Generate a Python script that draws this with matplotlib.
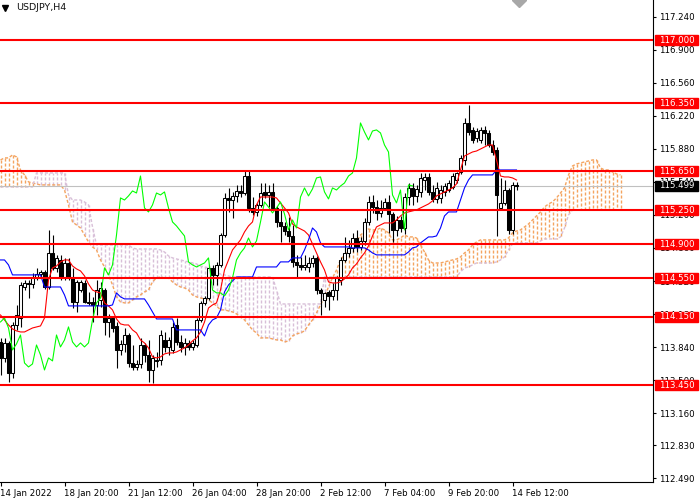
import numpy as np
import matplotlib
matplotlib.use("Agg")
import matplotlib.pyplot as plt
from matplotlib.patches import Rectangle

# USDJPY H4 candles (14 Jan 2022 .. 14 Feb 2022)
open_ = [113.893, 113.729, 113.883, 113.574, 114.068, 114.140, 114.459, 114.500, 114.490, 114.552,
         114.593, 114.614, 114.459, 114.809, 114.655, 114.737, 114.562, 114.706, 114.552, 114.305,
         114.428, 114.500, 114.305, 114.305, 114.274, 114.326, 114.428, 114.099, 114.140, 114.058,
         113.811, 113.873, 113.965, 113.677, 113.636, 113.667, 113.862, 113.760, 113.605, 113.708,
         113.708, 113.914, 113.842, 113.811, 114.068, 113.893, 113.842, 113.883, 113.842, 113.862,
         114.120, 114.295, 114.346, 114.655, 114.583, 114.686, 114.994, 115.375, 115.354, 115.396,
         115.447, 115.426, 115.601, 115.272, 115.231, 115.303, 115.437, 115.406, 115.437, 115.272,
         115.128, 115.087, 115.035, 114.984, 114.717, 114.686, 114.665, 114.665, 114.706, 114.758,
         114.428, 114.326, 114.408, 114.367, 114.428, 114.531, 114.737, 114.809, 114.861, 114.963,
         114.871, 114.933, 115.128, 115.334, 115.282, 115.221, 115.272, 115.334, 115.210, 115.046,
         115.149, 115.066, 115.385, 115.478, 115.396, 115.437, 115.560, 115.591, 115.437, 115.365,
         115.375, 115.437, 115.457, 115.488, 115.560, 115.642, 115.766, 116.147, 116.075, 115.992,
         115.972, 116.075, 116.044, 115.920, 115.869, 115.272, 115.324, 115.457, 115.046, 115.509]
high = [113.935, 113.935, 113.900, 114.099, 114.274, 114.511, 114.531, 114.531, 114.603, 114.655,
        114.634, 114.634, 115.046, 114.994, 114.789, 114.789, 114.758, 114.758, 114.655, 114.531,
        114.531, 114.531, 114.408, 114.357, 114.531, 114.511, 114.449, 114.182, 114.161, 114.099,
        113.914, 114.037, 113.986, 113.862, 113.708, 113.935, 113.883, 113.914, 113.760, 113.790,
        114.017, 113.996, 113.945, 114.099, 114.140, 113.965, 113.935, 113.914, 113.914, 114.140,
        114.315, 114.367, 114.686, 114.686, 114.717, 115.015, 115.426, 115.478, 115.437, 115.509,
        115.509, 115.663, 115.663, 115.385, 115.324, 115.529, 115.529, 115.509, 115.529, 115.293,
        115.252, 115.128, 115.180, 115.097, 114.789, 114.768, 114.789, 114.768, 114.789, 114.778,
        114.449, 114.408, 114.428, 114.500, 114.573, 114.768, 114.974, 114.943, 115.015, 115.046,
        114.974, 115.169, 115.396, 115.406, 115.354, 115.354, 115.375, 115.406, 115.231, 115.190,
        115.190, 115.426, 115.529, 115.529, 115.509, 115.632, 115.632, 115.632, 115.509, 115.540,
        115.509, 115.529, 115.560, 115.632, 115.642, 115.817, 116.198, 116.332, 116.105, 116.095,
        116.105, 116.116, 116.075, 115.972, 115.900, 115.581, 115.560, 115.478, 115.540, 115.540]
low = [113.554, 113.688, 113.482, 113.523, 114.017, 114.048, 114.428, 114.346, 114.449, 114.531,
       114.552, 114.439, 114.439, 114.634, 114.614, 114.531, 114.531, 114.531, 114.243, 114.202,
       114.408, 114.295, 114.274, 114.099, 114.171, 114.254, 113.965, 113.945, 113.996, 113.626,
       113.760, 113.790, 113.636, 113.605, 113.605, 113.626, 113.688, 113.482, 113.472, 113.636,
       113.657, 113.790, 113.760, 113.780, 113.862, 113.790, 113.760, 113.811, 113.811, 113.842,
       114.099, 114.274, 114.326, 114.480, 114.480, 114.665, 114.974, 115.231, 115.169, 115.334,
       115.385, 115.406, 115.231, 115.200, 115.190, 115.282, 115.375, 115.282, 115.252, 115.077,
       114.922, 114.994, 114.922, 114.665, 114.562, 114.634, 114.634, 114.614, 114.665, 114.387,
       114.171, 114.254, 114.223, 114.326, 114.326, 114.480, 114.717, 114.768, 114.819, 114.819,
       114.840, 114.891, 115.097, 115.221, 115.149, 115.180, 115.252, 115.015, 114.922, 114.984,
       115.025, 115.005, 115.303, 115.303, 115.334, 115.385, 115.457, 115.406, 115.334, 115.324,
       115.324, 115.396, 115.437, 115.468, 115.529, 115.622, 115.715, 116.023, 115.941, 115.951,
       115.941, 115.920, 115.900, 115.817, 114.984, 115.252, 115.303, 115.005, 115.005, 115.457]
close = [113.729, 113.883, 113.574, 114.068, 114.171, 114.480, 114.500, 114.490, 114.552, 114.593,
         114.614, 114.459, 114.809, 114.655, 114.758, 114.562, 114.706, 114.552, 114.305, 114.511,
         114.511, 114.305, 114.295, 114.274, 114.428, 114.449, 114.099, 114.140, 114.037, 113.811,
         113.873, 113.965, 113.677, 113.636, 113.667, 113.862, 113.760, 113.605, 113.729, 113.698,
         113.965, 113.842, 113.914, 114.048, 113.893, 113.842, 113.883, 113.842, 113.883, 114.120,
         114.295, 114.346, 114.655, 114.583, 114.686, 114.994, 115.375, 115.354, 115.396, 115.447,
         115.426, 115.601, 115.272, 115.231, 115.303, 115.426, 115.406, 115.437, 115.272, 115.128,
         115.087, 115.035, 114.984, 114.717, 114.686, 114.665, 114.686, 114.706, 114.758, 114.428,
         114.398, 114.398, 114.367, 114.428, 114.552, 114.737, 114.809, 114.861, 114.963, 114.871,
         114.933, 115.128, 115.334, 115.282, 115.221, 115.272, 115.334, 115.210, 115.046, 115.149,
         115.066, 115.385, 115.478, 115.396, 115.468, 115.581, 115.591, 115.437, 115.365, 115.478,
         115.457, 115.498, 115.529, 115.601, 115.632, 115.787, 116.147, 116.054, 115.972, 116.064,
         116.075, 116.044, 115.920, 115.848, 115.406, 115.324, 115.457, 115.046, 115.509, 115.499]

# Ichimoku lines as shown on the chart
tenkan = [114.171, 114.120, 114.068, 114.027, 114.007, 113.996, 113.996, 114.017, 114.037, 114.048,
          114.058, 114.140, 114.531, 114.655, 114.675, 114.717, 114.737, 114.737, 114.675, 114.645,
          114.624, 114.573, 114.490, 114.428, 114.408, 114.398, 114.295, 114.264, 114.223, 114.130,
          114.079, 114.068, 114.068, 114.017, 113.986, 113.914, 113.883, 113.832, 113.739, 113.729,
          113.739, 113.770, 113.780, 113.780, 113.790, 113.811, 113.832, 113.862, 113.904, 113.935,
          113.996, 114.099, 114.243, 114.274, 114.295, 114.428, 114.634, 114.737, 114.840, 114.891,
          114.943, 115.025, 115.087, 115.128, 115.303, 115.385, 115.385, 115.385, 115.385, 115.375,
          115.324, 115.272, 115.221, 115.107, 115.077, 115.056, 115.035, 114.994, 114.902, 114.809,
          114.717, 114.634, 114.511, 114.500, 114.500, 114.511, 114.542, 114.583, 114.655, 114.696,
          114.758, 114.809, 114.881, 114.984, 115.077, 115.097, 115.118, 115.118, 115.118, 115.149,
          115.190, 115.221, 115.231, 115.241, 115.252, 115.272, 115.293, 115.313, 115.344, 115.396,
          115.416, 115.437, 115.457, 115.478, 115.519, 115.663, 115.807, 115.827, 115.848, 115.858,
          115.879, 115.900, 115.920, 115.920, 115.766, 115.601, 115.591, 115.591, 115.581, 115.560]
kijun = [114.737, 114.737, 114.686, 114.583, 114.583, 114.583, 114.583, 114.583, 114.583, 114.583,
         114.583, 114.459, 114.459, 114.459, 114.459, 114.459, 114.377, 114.264, 114.264, 114.264,
         114.264, 114.264, 114.264, 114.264, 114.264, 114.264, 114.264, 114.264, 114.274, 114.398,
         114.357, 114.336, 114.336, 114.336, 114.336, 114.336, 114.336, 114.274, 114.202, 114.130,
         114.130, 114.130, 114.130, 114.130, 114.017, 114.017, 114.017, 114.017, 114.017, 114.017,
         114.017, 113.955, 114.068, 114.120, 114.140, 114.223, 114.408, 114.480, 114.521, 114.562,
         114.562, 114.562, 114.562, 114.562, 114.665, 114.665, 114.665, 114.665, 114.665, 114.665,
         114.717, 114.717, 114.717, 114.758, 114.758, 114.758, 114.840, 114.943, 115.066, 115.025,
         114.912, 114.871, 114.871, 114.871, 114.871, 114.871, 114.871, 114.871, 114.861, 114.861,
         114.861, 114.861, 114.840, 114.809, 114.789, 114.789, 114.789, 114.789, 114.789, 114.789,
         114.789, 114.789, 114.819, 114.861, 114.871, 114.912, 114.943, 114.974, 114.974, 114.984,
         115.066, 115.190, 115.231, 115.231, 115.231, 115.354, 115.478, 115.560, 115.612, 115.612,
         115.612, 115.612, 115.612, 115.612, 115.663, 115.663, 115.663, 115.663, 115.663, 115.663]
span_a = [115.766, 115.787, 115.787, 115.817, 115.797, 115.663, 115.612, 115.540, 115.529, 115.519,
          115.509, 115.509, 115.509, 115.509, 115.509, 115.509, 115.457, 115.303, 115.128, 115.097,
          115.066, 114.994, 114.922, 114.871, 114.840, 114.737, 114.665, 114.583, 114.480, 114.357,
          114.305, 114.295, 114.295, 114.326, 114.357, 114.377, 114.408, 114.428, 114.511, 114.552,
          114.562, 114.552, 114.552, 114.511, 114.480, 114.459, 114.449, 114.428, 114.377, 114.357,
          114.346, 114.336, 114.326, 114.295, 114.264, 114.223, 114.223, 114.212, 114.202, 114.182,
          114.151, 114.120, 114.068, 114.017, 113.986, 113.935, 113.935, 113.935, 113.924, 113.914,
          113.914, 113.893, 113.904, 113.955, 113.976, 113.986, 114.007, 114.068, 114.120, 114.192,
          114.274, 114.357, 114.459, 114.552, 114.634, 114.737, 114.789, 114.840, 114.891, 114.922,
          114.994, 115.025, 115.056, 115.046, 115.046, 115.066, 115.046, 115.015, 114.943, 114.943,
          114.963, 114.994, 114.974, 114.974, 114.963, 114.891, 114.819, 114.737, 114.706, 114.706,
          114.706, 114.717, 114.727, 114.737, 114.747, 114.768, 114.809, 114.840, 114.891, 114.922,
          114.943, 114.943, 114.943, 114.943, 114.943, 114.943, 114.943, 114.963, 115.015, 115.035,
          115.046, 115.077, 115.107, 115.149, 115.190, 115.231, 115.282, 115.313, 115.334, 115.375,
          115.426, 115.478, 115.612, 115.704, 115.725, 115.735, 115.745, 115.756, 115.766, 115.766,
          115.684, 115.663, 115.663, 115.642, 115.622, 115.612]
span_b = [115.488, 115.488, 115.488, 115.488, 115.488, 115.488, 115.488, 115.488, 115.488, 115.632,
          115.632, 115.632, 115.632, 115.632, 115.632, 115.632, 115.632, 115.406, 115.354, 115.354,
          115.354, 115.334, 115.303, 115.077, 114.891, 114.891, 114.891, 114.891, 114.891, 114.891,
          114.891, 114.891, 114.891, 114.861, 114.850, 114.850, 114.850, 114.850, 114.850, 114.850,
          114.840, 114.819, 114.778, 114.758, 114.747, 114.737, 114.727, 114.717, 114.706, 114.696,
          114.675, 114.665, 114.655, 114.634, 114.603, 114.593, 114.583, 114.573, 114.562, 114.562,
          114.562, 114.562, 114.562, 114.562, 114.562, 114.562, 114.562, 114.562, 114.562, 114.428,
          114.284, 114.284, 114.284, 114.284, 114.284, 114.284, 114.284, 114.284, 114.284, 114.284,
          114.284, 114.562, 114.562, 114.562, 114.562, 114.562, 114.562, 114.562, 114.562, 114.562,
          114.562, 114.562, 114.562, 114.562, 114.562, 114.562, 114.562, 114.562, 114.562, 114.562,
          114.562, 114.562, 114.562, 114.562, 114.562, 114.562, 114.562, 114.562, 114.562, 114.562,
          114.562, 114.562, 114.562, 114.562, 114.562, 114.614, 114.655, 114.665, 114.686, 114.706,
          114.706, 114.706, 114.706, 114.706, 114.717, 114.737, 114.768, 114.840, 114.902, 114.912,
          114.912, 114.912, 114.912, 114.912, 114.912, 114.933, 114.953, 114.953, 114.953, 114.953,
          114.974, 115.066, 115.200, 115.252, 115.252, 115.252, 115.252, 115.252, 115.252, 115.252,
          115.252, 115.252, 115.252, 115.252, 115.252, 115.252]
chikou_shift = 26

levels = [117.000, 116.350, 115.650, 115.250, 114.900, 114.550, 114.150, 113.450]
bid = 115.499

ytick_vals = [117.240, 116.900, 116.560, 116.220, 115.880, 115.540, 115.200, 114.860,
              114.520, 114.180, 113.840, 113.500, 113.160, 112.830, 112.490]
xtick_bars = [0, 16, 32, 48, 64, 80, 96, 112, 128]
xtick_labels = ["14 Jan 2022", "18 Jan 20:00", "21 Jan 12:00", "26 Jan 04:00", "28 Jan 20:00",
                "2 Feb 12:00", "7 Feb 04:00", "9 Feb 20:00", "14 Feb 12:00"]

o = np.array(open_)
h = np.array(high)
l = np.array(low)
c = np.array(close)
sa = np.array(span_a)
sb = np.array(span_b)

plt.rcParams['font.family'] = ['DejaVu Sans']

fig = plt.figure(figsize=(7, 5), dpi=100)
ax = fig.add_axes([0, 18 / 500, 653 / 700, 482 / 500])
ax.set_xlim(-0.125, 163.125)
ax.set_ylim(112.452, 117.412)

# kumo: dotted histogram between the two spans, one dashed stroke per bar
orange = '#F4A460'
thistle = '#D8BFD8'
dash = (0, (2.2, 1.4))
for k in range(len(sa)):
    col = orange if sa[k] >= sb[k] else thistle
    ax.plot([k, k], [sa[k], sb[k]], color=col, ls=dash, lw=1.0, zorder=1)
kx = np.arange(len(sa))
ax.plot(kx, sa, color=orange, ls=dash, lw=1.0, zorder=1)
ax.plot(kx, sb, color=thistle, ls=dash, lw=1.0, zorder=1)

# bid line
ax.axhline(bid, color='#C0C0C0', lw=0.8, zorder=2)

# candles
idx = np.arange(len(c))
dn = c < o
ax.vlines(idx, l, h, color='black', lw=0.8, zorder=3)
ax.bar(idx[~dn], (c - o)[~dn], bottom=o[~dn], width=0.62, color='white',
       edgecolor='black', lw=0.75, zorder=4)
ax.bar(idx[dn], (c - o)[dn], bottom=o[dn], width=0.62, color='black',
       edgecolor='black', lw=0.75, zorder=4)

# tenkan, kijun, chikou
ax.plot(np.arange(len(tenkan)), tenkan, color='red', lw=0.8, zorder=5)
ax.plot(np.arange(len(kijun)), kijun, color='blue', lw=0.8, zorder=5)
ax.plot(np.arange(len(c) - chikou_shift), c[chikou_shift:], color='#00FF00', lw=0.8, zorder=5)

# horizontal levels with price tags
ytr = ax.get_yaxis_transform()
for lv in levels:
    ax.axhline(lv, color='red', lw=1.5, zorder=6)
    ax.add_patch(Rectangle((655 / 653, lv - 0.05), 43 / 653, 0.1, transform=ytr,
                           color='red', clip_on=False, zorder=7))
    ax.text(659 / 653, lv, f"{lv:.3f}", transform=ytr, color='white', fontsize=6.2,
            ha='left', va='center', clip_on=False, zorder=8)
ax.add_patch(Rectangle((655 / 653, bid - 0.05), 43 / 653, 0.1, transform=ytr,
                       color='black', clip_on=False, zorder=7))
ax.text(659 / 653, bid, f"{bid:.3f}", transform=ytr, color='white', fontsize=6.2,
        ha='left', va='center', clip_on=False, zorder=8)

# axes styling
for s in ['top', 'left']:
    ax.spines[s].set_visible(False)
for s in ['right', 'bottom']:
    ax.spines[s].set_linewidth(0.8)
ax.yaxis.tick_right()
ax.set_yticks(ytick_vals)
ax.set_yticklabels([f"{v:.3f}" for v in ytick_vals])
ax.tick_params(axis='y', length=2.5, width=0.8, pad=2, labelsize=6.2)
ax.set_xticks(xtick_bars)
ax.set_xticklabels(xtick_labels)
ax.tick_params(axis='x', length=3, width=0.8, pad=2, labelsize=6.2)
for lab in ax.get_xticklabels():
    lab.set_ha('left')

# header and chart shift marker
ax.plot([5 / 653], [1 - 8 / 482], marker='v', ms=4, color='black',
        transform=ax.transAxes, clip_on=False)
ax.text(16 / 653, 1 - 8 / 482, "USDJPY,H4", transform=ax.transAxes, fontsize=6.8,
        ha='left', va='center', color='#101010')
ax.plot([519 / 653], [1.0], marker='D', ms=7, color='#A8A8A8',
        transform=ax.transAxes, clip_on=False)

fig.savefig("out.png", dpi=100)
